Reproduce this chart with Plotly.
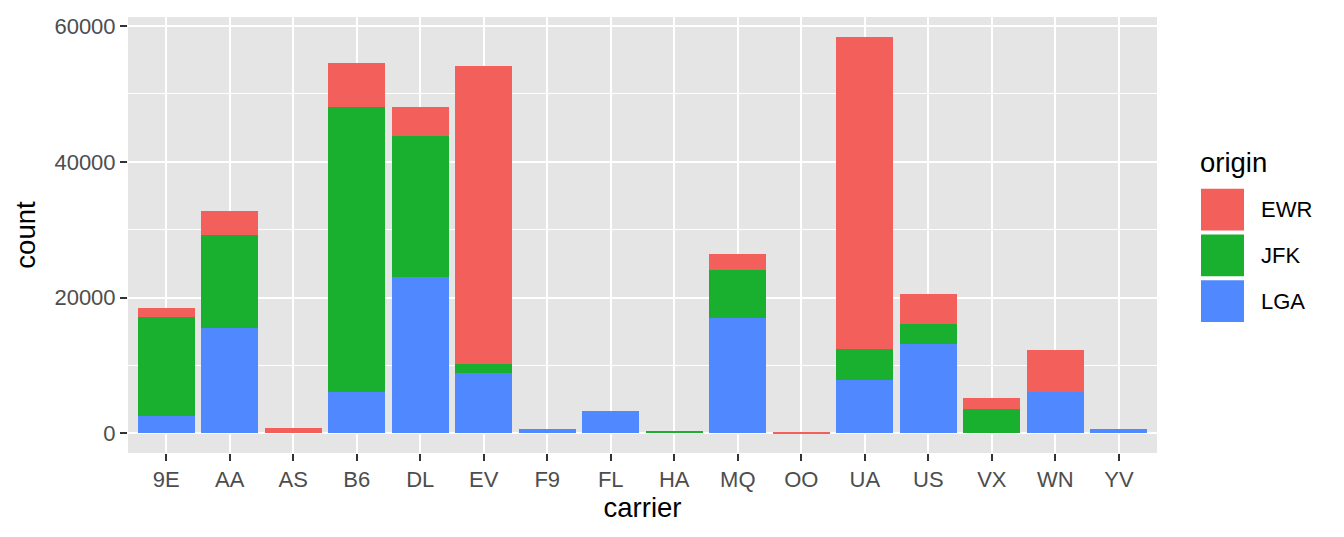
import plotly.graph_objects as go

carriers = ["9E", "AA", "AS", "B6", "DL", "EV", "F9", "FL", "HA", "MQ", "OO", "UA", "US", "VX", "WN", "YV"]
origins = ["EWR", "JFK", "LGA"]
ewr = [1268, 3487, 714, 6557, 4342, 43939, 0, 0, 0, 2276, 6, 46087, 4405, 1566, 6188, 0]
jfk = [14651, 13783, 0, 42076, 20701, 1408, 0, 0, 342, 7193, 0, 4534, 2995, 3596, 0, 0]
lga = [2541, 15459, 0, 6002, 23067, 8826, 685, 3260, 0, 16928, 26, 7803, 13136, 0, 6087, 601]
colors = {"EWR": "#F35F5B", "JFK": "#19B02F", "LGA": "#4F88FF"}
counts = {"EWR": ewr, "JFK": jfk, "LGA": lga}

# page is rendered with the default 8px body margin, so size/margins account for it
W, H = 1336, 529
L, R, T, B = 120, 187, 6, 84
OFF = 8
pw = W - L - R
ph = H - T - B


def px(x):  # page x pixel -> paper coord
    return (x - OFF - L) / pw


def py(y):  # page y pixel -> paper coord
    return (H - B - (y - OFF)) / ph


fig = go.Figure()
# stack bottom-up: LGA, JFK, EWR
for o in ["LGA", "JFK", "EWR"]:
    fig.add_trace(go.Bar(x=carriers, y=counts[o], name=o, marker_color=colors[o],
                         marker_line_width=0, width=0.9, showlegend=False))

totals = [a + b + c for a, b, c in zip(ewr, jfk, lga)]
ymax = max(totals)
pad = 0.05 * ymax

fig.update_layout(
    barmode="stack",
    width=W, height=H,
    margin=dict(l=L, r=R, t=T, b=B),
    paper_bgcolor="white",
    plot_bgcolor="#E5E5E5",
    font=dict(family="Liberation Sans, Arial, sans-serif", color="#4D4D4D"),
)
fig.update_xaxes(
    range=[-0.6, len(carriers) - 0.4],
    showgrid=True, gridcolor="white", gridwidth=2.2,
    ticks="outside", ticklen=7, tickwidth=2, tickcolor="#333333",
    tickfont=dict(size=22, color="#4D4D4D"),
    title=dict(text="carrier", font=dict(size=27.5, color="black"), standoff=4),
    zeroline=False, fixedrange=True,
)
fig.update_yaxes(
    range=[-pad, ymax + pad],
    tickvals=[0, 20000, 40000, 60000], tickformat="d",
    showgrid=True, gridcolor="white", gridwidth=2.2,
    minor=dict(tickvals=[10000, 30000, 50000], showgrid=True, gridcolor="white", gridwidth=1.1, ticks=""),
    ticks="outside", ticklen=7, tickwidth=2, tickcolor="#333333",
    tickfont=dict(size=22, color="#4D4D4D"),
    title=dict(text="count", font=dict(size=27.5, color="black"), standoff=10),
    zeroline=False, fixedrange=True,
)

# ggplot-style legend drawn as shapes
key_x0, key_x1 = 1201, 1244
key_top, key_h, key_gap = 187, 42, 4
fig.add_annotation(text="origin", xref="paper", yref="paper",
                   x=px(1198), y=py(160),
                   xanchor="left", yanchor="middle", showarrow=False,
                   font=dict(size=27.5, color="black"))
for i, o in enumerate(origins):
    y0 = key_top + i * (key_h + key_gap)
    y1 = y0 + key_h
    fig.add_shape(type="rect", xref="paper", yref="paper",
                  x0=px(key_x0), x1=px(key_x1), y0=py(y1), y1=py(y0),
                  fillcolor=colors[o], line_width=0)
    fig.add_annotation(text=o, xref="paper", yref="paper",
                       x=px(1259), y=py((y0 + y1) / 2),
                       xanchor="left", yanchor="middle", showarrow=False,
                       font=dict(size=22, color="black"))

fig.write_html("out.html")
